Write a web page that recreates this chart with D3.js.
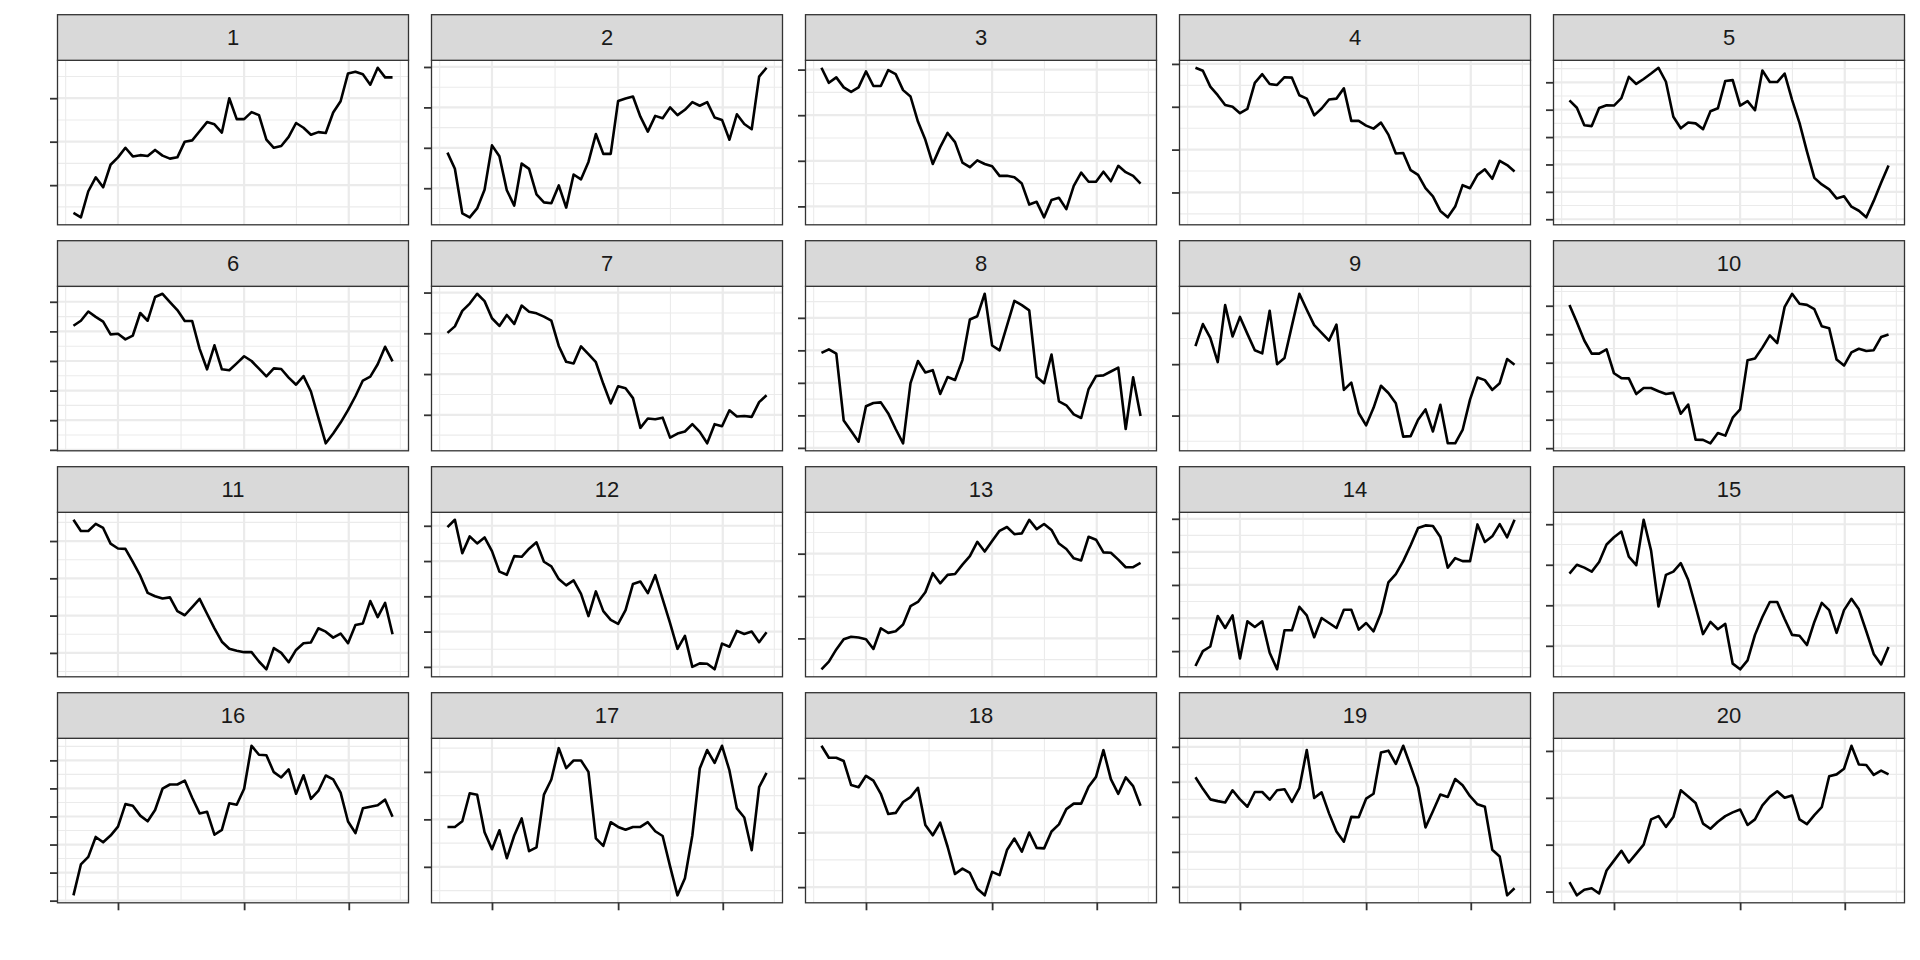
<!DOCTYPE html>
<html><head><meta charset="utf-8">
<script src="https://cdn.jsdelivr.net/npm/d3@7"></script>
<style>html,body{margin:0;padding:0;background:#fff;} svg{display:block;}</style>
</head><body><svg id="chart" width="1920" height="960"></svg>
<script>
// ---- data ----
const panelLabels = ["1","2","3","4","5","6","7","8","9","10","11","12","13","14","15","16","17","18","19","20"];
const xMajor = [7, 24, 38.1];
const xMinor = [-0.05, 15.5, 31.05, 45.05];

const s1 = [-6.4,-7.4,-1.4,1.8,-0.5,4.7,6.4,8.6,6.6,6.9,6.7,8.1,6.8,6.1,6.4,10.0,10.3,12.4,14.5,14.0,12.1,20.0,15.2,15.2,16.8,16.1,10.5,8.6,9.0,11.1,14.3,13.2,11.6,12.2,12.0,16.7,19.3,25.7,26.1,25.5,23.1,27.0,24.8,24.8];
const s2 = [8.8,4.8,-6.2,-7.2,-5.0,-0.4,10.6,7.9,-0.5,-4.3,6.1,4.8,-1.5,-3.5,-3.7,0.7,-4.8,3.4,2.2,6.5,13.4,8.5,8.5,21.6,22.2,22.7,17.7,14.0,17.9,17.3,20.0,18.1,19.4,21.3,20.4,21.3,17.5,16.9,12.0,18.3,15.9,14.6,27.6,29.8];
const s3 = [30.4,27.1,28.3,26.1,25.1,26.1,29.6,26.4,26.4,29.9,29.0,25.5,24.1,18.6,14.6,9.3,13.0,16.1,14.1,9.6,8.6,10.1,9.3,8.8,6.7,6.7,6.4,5.0,0.4,1.0,-2.4,1.4,1.9,-0.6,4.5,7.4,5.4,5.4,7.6,5.5,8.9,7.5,6.7,5.0];
const s4 = [29.1,28.4,24.7,22.7,20.4,20.0,18.5,19.5,25.6,27.6,25.3,25.1,26.9,26.8,22.7,21.9,18.0,19.6,21.7,21.9,24.3,16.7,16.7,15.6,14.9,16.3,13.5,9.1,9.2,5.2,4.1,1.0,-0.9,-4.3,-5.8,-3.3,1.7,1.0,4.1,5.4,3.2,7.4,6.4,4.9];
const s5 = [43.4,40.7,34.3,34.0,40.6,41.6,41.5,44.2,52.0,49.4,51.2,53.2,55.3,50.2,37.4,33.2,35.3,35.0,32.9,39.4,40.5,50.5,50.8,41.5,43.1,39.8,54.3,50.1,50.1,53.2,43.6,35.2,24.8,15.1,12.7,10.9,7.6,8.4,4.6,3.1,0.7,6.7,13.3,19.6];
const s6 = [41.9,43.6,46.7,44.9,43.3,39.0,39.2,37.3,38.6,46.2,43.6,51.6,52.7,49.9,47.2,43.5,43.5,34.1,27.2,35.3,27.2,26.9,29.2,31.6,30.0,27.4,24.8,27.5,27.3,24.4,22.0,24.9,19.7,10.9,2.2,5.5,9.2,13.4,18.1,23.4,24.7,28.9,34.8,29.9];
const s7 = [20.1,21.7,25.5,27.3,29.7,27.9,23.7,21.8,24.5,22.3,26.8,25.3,24.9,24.1,23.1,16.9,13.0,12.6,16.8,14.9,12.9,7.6,2.8,7.0,6.5,4.1,-3.2,-0.9,-1.1,-0.7,-5.6,-4.6,-4.1,-2.3,-4.2,-7.0,-2.3,-2.8,1.1,-0.4,-0.3,-0.5,3.1,4.8];
const s8 = [29.2,30.3,29.0,8.4,5.2,1.9,12.8,13.8,14.0,10.6,5.8,1.4,19.9,26.7,23.2,23.9,16.6,21.8,20.9,27.0,39.5,40.5,47.4,31.5,30.0,37.6,45.2,43.9,42.3,21.8,19.9,28.7,14.3,13.1,10.3,9.2,18.1,22.1,22.3,23.5,24.7,5.8,21.7,9.8];
const s9 = [13.5,17.8,15.1,10.4,21.5,15.4,19.2,15.9,12.7,12.1,20.4,10.0,11.2,17.5,23.7,20.6,17.6,16.1,14.6,17.7,5.0,6.4,0.5,-1.9,1.5,5.8,4.4,2.4,-4.1,-4.0,-0.8,1.2,-3.1,2.1,-5.4,-5.4,-2.8,3.1,7.4,6.9,5.0,6.3,11.0,9.9];
const s10 = [50.3,44.2,37.8,33.2,33.2,34.7,26.3,24.6,24.5,19.0,21.1,21.1,20.0,19.0,19.4,12.1,15.3,3.0,2.9,1.7,5.3,4.4,10.7,13.6,30.9,31.5,35.3,39.6,36.9,49.6,54.2,50.7,50.3,48.8,42.8,42.1,31.1,29.0,33.6,34.9,34.1,34.4,39.0,39.9];
const s11 = [35.7,32.7,32.7,34.6,33.5,29.3,28.0,27.9,24.4,20.7,16.1,15.2,14.6,14.9,11.2,10.1,12.3,14.5,10.5,6.6,3.0,1.1,0.6,0.2,0.2,-2.3,-4.4,1.3,0.0,-2.5,0.8,2.6,2.8,6.6,5.7,4.1,5.2,2.6,7.5,7.9,13.9,9.6,13.4,5.0];
const s12 = [39.6,41.7,32.2,37.0,35.0,36.7,32.8,27.0,26.1,31.4,31.2,33.5,35.3,29.8,28.5,24.9,23.1,24.5,20.7,14.4,21.4,15.8,13.3,12.2,16.1,23.5,24.2,20.9,26.0,19.2,12.4,5.1,8.8,0.0,1.0,0.9,-0.7,6.6,5.7,10.2,9.3,10.0,7.0,9.8];
const s13 = [-7.3,-5.5,-2.6,-0.2,0.4,0.2,-0.2,-2.5,2.4,1.3,1.7,3.3,7.6,8.6,10.9,15.4,13.0,15.0,15.2,17.4,19.4,22.8,20.5,23.0,25.4,26.3,24.6,24.8,28.0,25.8,27.0,25.6,22.4,21.1,18.9,18.4,24.0,23.3,20.3,20.2,18.6,16.8,16.8,17.8];
const s14 = [-4.5,0.0,1.4,10.6,7.0,10.8,-2.2,9.0,7.3,9.0,-0.5,-5.5,6.3,6.3,13.4,10.8,4.2,10.0,8.5,7.0,12.5,12.5,6.5,8.5,6.0,11.5,20.8,23.3,27.2,32.0,37.2,38.0,37.8,34.5,25.2,28.1,27.2,27.2,38.3,33.0,34.7,38.4,34.4,39.7];
const s15 = [17.8,20.0,19.3,18.3,20.7,25.0,26.8,28.2,22.0,19.9,31.1,23.5,9.7,17.5,18.3,20.4,16.3,9.7,2.9,5.9,4.1,5.4,-4.4,-5.8,-3.6,2.7,7.1,10.8,10.8,6.6,2.7,2.5,0.2,5.9,10.6,8.8,3.2,8.8,11.6,9.0,3.6,-2.0,-4.6,-0.3];
const s16 = [1.9,12.9,15.6,22.7,20.8,23.2,26.4,34.4,33.8,30.3,28.3,32.3,39.9,41.4,41.4,42.8,36.7,31.1,31.7,23.5,25.2,34.7,34.2,39.9,55.2,52.0,51.8,45.8,43.9,46.8,38.1,44.7,36.3,39.1,44.6,43.2,38.5,28.2,24.1,32.9,33.5,34.0,36.0,29.9];
const s17 = [8.4,8.4,9.6,15.5,15.2,7.3,3.7,7.7,1.8,6.6,10.2,3.3,4.1,15.2,18.4,25.0,20.8,22.4,22.4,20.0,6.0,4.4,9.4,8.4,7.8,8.4,8.4,9.4,7.5,6.5,0.1,-6.0,-2.4,6.6,20.7,24.6,21.9,25.5,20.3,12.3,10.4,3.5,16.8,19.8];
const s18 = [25.9,23.7,23.7,23.1,18.7,18.3,20.4,19.5,17.1,13.4,13.6,15.6,16.5,18.2,11.4,9.5,11.8,7.4,2.4,3.4,2.6,-0.3,-1.5,2.8,2.2,6.8,8.9,6.5,10.0,7.2,7.1,10.2,11.5,14.3,15.3,15.3,18.4,20.2,25.1,19.8,17.1,20.1,18.5,14.9];
const s19 = [31.3,28.0,25.0,24.5,24.1,27.6,25.0,22.9,27.1,27.1,24.9,27.6,27.9,24.3,28.2,39.1,25.4,27.0,21.0,15.8,12.9,20.0,19.9,25.2,26.6,38.4,38.9,35.1,40.3,34.5,28.5,17.0,21.6,26.4,25.7,30.8,29.0,25.9,23.6,22.9,10.6,8.7,-2.4,-0.4];
const s20 = [2.0,-0.8,0.4,0.7,-0.4,4.5,6.6,8.7,6.2,8.1,10.0,15.4,16.1,13.8,15.9,21.6,20.3,18.9,14.5,13.4,14.9,16.1,16.9,17.5,14.2,15.4,18.4,20.2,21.4,20.0,20.5,15.4,14.4,16.3,18.0,24.6,25.0,26.2,31.1,27.1,27.0,24.9,25.8,25.0];

const yBreaks = [
  [0,10,20],[0,10,20,30],[0,10,20,30],[0,10,20,30],[0,10,20,30,40,50],
  [0,10,20,30,40,50],[0,10,20,30],[0,10,20,30,40],[0,10,20],[0,10,20,30,40,50],
  [0,10,20,30],[0,10,20,30,40],[0,10,20],[0,10,20,30,40],[0,10,20,30],
  [0,10,20,30,40,50],[0,10,20],[0,10,20],[0,10,20,30,40],[0,10,20,30]
];
const seriesList = [s1,s2,s3,s4,s5,s6,s7,s8,s9,s10,s11,s12,s13,s14,s15,s16,s17,s18,s19,s20];

// ---- layout ----
const svg = d3.select('#chart');
const nCol = 5, left0 = 57.5, colPitch = 374, panelW = 351;
const top0 = 14.7, rowPitch = 226, stripH = 45.6, plotH = 164.5, tickLen = 7.5;
const nRow = Math.ceil(seriesList.length / nCol);
const nPts = s1.length;
const xIdx = d3.range(1, nPts + 1);
const xPad = 0.05 * (nPts - 1);
const x = d3.scaleLinear().domain([1 - xPad, nPts + xPad]).range([0, panelW]);

const gridCol = '#EBEBEB', borderCol = '#333333';

seriesList.forEach((vals, i) => {
  const col = i % nCol, row = Math.floor(i / nCol);
  const px = left0 + col * colPitch;
  const sy = top0 + row * rowPitch;
  const py = sy + stripH;
  const [mn, mx] = d3.extent(vals);
  const pad = 0.05 * (mx - mn);
  const y = d3.scaleLinear().domain([mn - pad, mx + pad]).range([plotH, 0]);
  const [d0, d1] = y.domain();
  const br = yBreaks[i].filter(v => v >= d0 && v <= d1);
  const step = yBreaks[i][1] - yBreaks[i][0];
  const allB = yBreaks[i];
  const yMinor = [allB[0] - step / 2, ...d3.pairs(allB).map(([a, b]) => (a + b) / 2), allB[allB.length - 1] + step / 2]
    .filter(v => v >= d0 && v <= d1);

  const g = svg.append('g').attr('transform', `translate(${px},${py})`);
  g.append('rect').attr('width', panelW).attr('height', plotH).attr('fill', '#fff');

  // minor grid
  g.selectAll('.ymin').data(yMinor).join('line')
    .attr('x1', 0).attr('x2', panelW).attr('y1', d => y(d)).attr('y2', d => y(d))
    .attr('stroke', gridCol).attr('stroke-width', 1.1);
  g.selectAll('.xmin').data(xMinor.filter(v => v >= x.domain()[0] && v <= x.domain()[1])).join('line')
    .attr('y1', 0).attr('y2', plotH).attr('x1', d => x(d)).attr('x2', d => x(d))
    .attr('stroke', gridCol).attr('stroke-width', 1.1);
  // major grid
  g.append('g').selectAll('line').data(br).join('line')
    .attr('x1', 0).attr('x2', panelW).attr('y1', d => y(d)).attr('y2', d => y(d))
    .attr('stroke', gridCol).attr('stroke-width', 2.2);
  g.append('g').selectAll('line').data(xMajor).join('line')
    .attr('y1', 0).attr('y2', plotH).attr('x1', d => x(d)).attr('x2', d => x(d))
    .attr('stroke', gridCol).attr('stroke-width', 2.2);

  // series line
  const line = d3.line().x((d, j) => x(xIdx[j])).y(d => y(d));
  g.append('path').datum(vals).attr('d', line)
    .attr('fill', 'none').attr('stroke', '#000').attr('stroke-width', 2.6)
    .attr('stroke-linejoin', 'round');

  // border
  g.append('rect').attr('width', panelW).attr('height', plotH)
    .attr('fill', 'none').attr('stroke', borderCol).attr('stroke-width', 1.3);

  // y axis ticks (no labels)
  const ya = g.append('g').call(d3.axisLeft(y).tickValues(br).tickSize(tickLen).tickFormat(''));
  ya.select('.domain').remove();
  ya.selectAll('line').attr('stroke', borderCol).attr('stroke-width', 1.8);

  // x axis ticks on the bottom row
  if (row === nRow - 1) {
    const xa = g.append('g').attr('transform', `translate(0,${plotH})`)
      .call(d3.axisBottom(x).tickValues(xMajor).tickSize(tickLen).tickFormat(''));
    xa.select('.domain').remove();
    xa.selectAll('line').attr('stroke', borderCol).attr('stroke-width', 1.8);
  }

  // strip
  const sg = svg.append('g').attr('transform', `translate(${px},${sy})`);
  sg.append('rect').attr('width', panelW).attr('height', stripH)
    .attr('fill', '#D9D9D9').attr('stroke', borderCol).attr('stroke-width', 1.3);
  sg.append('text').attr('x', panelW / 2).attr('y', stripH / 2 + 7.9)
    .attr('text-anchor', 'middle')
    .attr('font-family', '"Liberation Sans", Arial, sans-serif')
    .attr('font-size', 22).attr('fill', '#1A1A1A')
    .text(panelLabels[i]);
});
</script>
</body></html>
